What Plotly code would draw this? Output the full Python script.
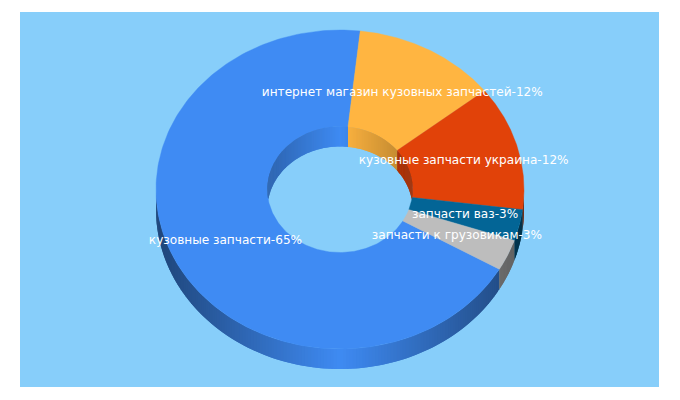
import numpy as np
import plotly.graph_objects as go

categories = ["кузовные запчасти", "интернет магазин кузовных запчастей",
              "кузовные запчасти украина", "запчасти ваз", "запчасти к грузовикам"]
values = [65, 12, 12, 3, 3]
colors = ["#3f8bf3", "#ffb541", "#e14209", "#036596", "#bdbdbd"]

BG = "#87cefa"
CX, CY = 340.0, 189.5
RX, RY = 184.0, 159.5
HOLE = 0.395
DEPTH = 20
START = 120  # degrees clockwise from the top


def shade(color, f):
    r, g, b = [int(color[i:i + 2], 16) for i in (1, 3, 5)]
    return "rgb(%d,%d,%d)" % (r * f, g * f, b * f)


def ex(t, k=1.0):
    return CX + k * RX * np.sin(np.radians(t))


def ey(t, k=1.0):
    return CY - k * RY * np.cos(np.radians(t))


def poly(fig, x, y, color, width=0.0):
    fig.add_trace(go.Scatter(x=list(x) + [x[0]], y=list(y) + [y[0]], mode="lines", fill="toself",
                             fillcolor=color, line=dict(color=color, width=width), hoverinfo="skip"))


def strips(lo, hi):
    # each strip runs on under the next one so no seams show
    steps = np.arange(lo, hi, 1.0).tolist() + [hi]
    return [(t0, t1, steps[min(i + 2, len(steps) - 1)]) for i, (t0, t1) in enumerate(zip(steps[:-1], steps[1:]))]


fig = go.Figure()

# slice angles from the values
total = sum(values)
angles = []
a = START
for v in values:
    angles.append((a, a + v / total * 360))
    a = a + v / total * 360

# outer wall, lower half only
for (a0, a1), c in zip(angles, colors):
    for lo, hi in [(a0, a1), (a0 - 360, a1 - 360)]:
        lo, hi = max(lo, 90), min(hi, 270)
        if hi <= lo:
            continue
        for t0, t1, t2 in strips(lo, hi):
            f = 1 - 0.5 * abs(np.sin(np.radians((t0 + t1) / 2)))
            poly(fig, [ex(t0), ex(t2), ex(t2), ex(t0)],
                 [ey(t0), ey(t2), ey(t2) + DEPTH, ey(t0) + DEPTH], shade(c, f))

# top face
for (a0, a1), c in zip(angles, colors):
    t = np.linspace(a0, a1, 200)
    x = np.concatenate([ex(t), ex(t[::-1], HOLE)])
    y = np.concatenate([ey(t), ey(t[::-1], HOLE)])
    poly(fig, x.tolist(), y.tolist(), c, width=0.4)

# inner wall seen through the hole, upper half only
for (a0, a1), c in zip(angles, colors):
    for lo, hi in [(a0, a1), (a0 - 360, a1 - 360)]:
        lo, hi = max(lo, -90), min(hi, 90)
        if hi <= lo:
            continue
        for t0, t1, t2 in strips(lo, hi):
            f = 1 - 0.28 * abs(np.sin(np.radians((t0 + t1) / 2)))
            low0 = min(ey(t0, HOLE) + DEPTH, 2 * CY - ey(t0, HOLE))
            low2 = min(ey(t2, HOLE) + DEPTH, 2 * CY - ey(t2, HOLE))
            poly(fig, [ex(t0, HOLE), ex(t2, HOLE), ex(t2, HOLE), ex(t0, HOLE)],
                 [ey(t0, HOLE), ey(t2, HOLE), low2, low0], shade(c, f))

# labels sit at the middle of the ring
mids = [(a0 + a1) / 2 for a0, a1 in angles]
mid_r = (1 + HOLE) / 2
fig.add_trace(go.Scatter(x=[ex(m, mid_r) for m in mids], y=[ey(m, mid_r) + 1 for m in mids],
                         mode="text", text=["%s-%d%%" % (n, v) for n, v in zip(categories, values)],
                         textposition="middle center", hoverinfo="skip",
                         textfont=dict(family="DejaVu Sans", size=12.1, color="white")))

fig.update_layout(width=680, height=400, showlegend=False, paper_bgcolor="white", plot_bgcolor=BG,
                  margin=dict(l=20, r=21, t=12, b=13),
                  xaxis=dict(range=[20, 659], visible=False),
                  yaxis=dict(range=[387, 12], visible=False))

fig.write_html("out.html", post_script="document.body.style.margin='0';",
               config=dict(displayModeBar=False))
